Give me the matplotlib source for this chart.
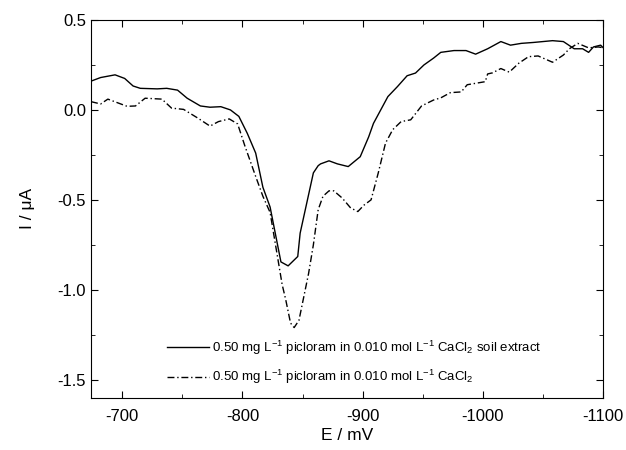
import matplotlib
matplotlib.use("Agg")
import matplotlib.pyplot as plt
from matplotlib.ticker import MultipleLocator

plt.rcParams['font.family'] = ['Liberation Sans', 'DejaVu Sans']
plt.rcParams['mathtext.fontset'] = 'custom'
plt.rcParams['mathtext.rm'] = 'Liberation Sans'

# soil extract (solid)
e_soil = [-674, -682, -694, -702, -709, -715, -729, -737, -746, -754, -765, -773,
          -782, -790, -797, -804, -811, -817, -823, -832, -838, -846, -848, -859,
          -863, -865, -872, -879, -888, -898, -905, -909, -921, -929, -937, -944,
          -951, -959, -965, -976, -986, -994, -1004, -1015, -1023, -1032, -1042,
          -1058, -1067, -1076, -1083, -1088, -1092, -1098, -1101]
i_soil = [0.16, 0.18, 0.195, 0.175, 0.133, 0.12, 0.117, 0.12, 0.11, 0.065, 0.022, 0.015,
          0.018, 0.0, -0.036, -0.13, -0.24, -0.43, -0.54, -0.845, -0.867, -0.815, -0.685,
          -0.35, -0.31, -0.30, -0.283, -0.30, -0.315, -0.26, -0.15, -0.075, 0.074, 0.13,
          0.19, 0.205, 0.25, 0.288, 0.32, 0.33, 0.33, 0.31, 0.34, 0.38, 0.36, 0.37, 0.375,
          0.385, 0.38, 0.34, 0.34, 0.32, 0.35, 0.36, 0.34]

# CaCl2 only (dash-dot)
e_cacl = [-674, -682, -688, -696, -704, -711, -719, -733, -741, -751, -763, -773,
          -780, -789, -796, -802, -811, -817, -823, -829, -833, -836, -840, -843,
          -847, -851, -855, -859, -863, -867, -872, -876, -883, -890, -896, -901,
          -907, -913, -919, -925, -932, -940, -949, -959, -965, -973, -982, -987,
          -1002, -1004, -1008, -1015, -1022, -1030, -1038, -1046, -1058, -1067,
          -1072, -1079, -1088, -1096, -1101]
i_cacl = [0.046, 0.033, 0.06, 0.04, 0.02, 0.022, 0.065, 0.06, 0.01, 0.003, -0.046, -0.09,
          -0.065, -0.05, -0.078, -0.2, -0.37, -0.48, -0.57, -0.81, -0.97, -1.055, -1.185,
          -1.21, -1.17, -1.04, -0.91, -0.75, -0.555, -0.48, -0.45, -0.45, -0.49, -0.545,
          -0.565, -0.53, -0.50, -0.35, -0.185, -0.11, -0.065, -0.055, 0.022, 0.055, 0.067,
          0.096, 0.1, 0.14, 0.157, 0.2, 0.206, 0.23, 0.21, 0.26, 0.296, 0.30, 0.265, 0.305,
          0.34, 0.37, 0.345, 0.35, 0.345]

lab_soil = r"0.50 mg L$^{\mathregular{-1}}$ picloram in 0.010 mol L$^{\mathregular{-1}}$ CaCl$_{\mathregular{2}}$ soil extract"
lab_cacl = r"0.50 mg L$^{\mathregular{-1}}$ picloram in 0.010 mol L$^{\mathregular{-1}}$ CaCl$_{\mathregular{2}}$"

fig = plt.figure(figsize=(6.26, 4.5), dpi=100)
ax = fig.add_axes([0.1454, 0.1162, 0.8179, 0.8394])

ax.plot(e_soil, i_soil, color='black', lw=1.0, label=lab_soil)
ax.plot(e_cacl, i_cacl, color='black', lw=1.0, dashes=(5, 2, 1, 2), label=lab_cacl)

ax.set_xlim(-674, -1100)
ax.set_ylim(-1.6, 0.5)
ax.xaxis.set_major_locator(MultipleLocator(100))
ax.xaxis.set_minor_locator(MultipleLocator(50))
ax.yaxis.set_major_locator(MultipleLocator(0.5))
ax.yaxis.set_minor_locator(MultipleLocator(0.25))
ax.tick_params(which='both', direction='in', top=True, right=True, labelsize=12)
ax.tick_params(axis='x', which='major', pad=8)
ax.tick_params(which='major', length=5)
ax.tick_params(which='minor', length=3)
ax.yaxis.set_major_formatter(plt.FuncFormatter(lambda v, p: "%.1f" % v))
ax.xaxis.set_major_formatter(plt.FuncFormatter(lambda v, p: "%d" % v))

ax.set_xlabel("E / mV", fontsize=12.5, labelpad=3)
ax.set_ylabel("I / μA", fontsize=12.5, labelpad=16)

ax.legend(loc='lower left', bbox_to_anchor=(0.148, 0.03), frameon=False,
          fontsize=9.5, handlelength=3.2, handletextpad=0.2, labelspacing=0.85,
          borderpad=0, borderaxespad=0)

fig.savefig("out.png", dpi=100)
